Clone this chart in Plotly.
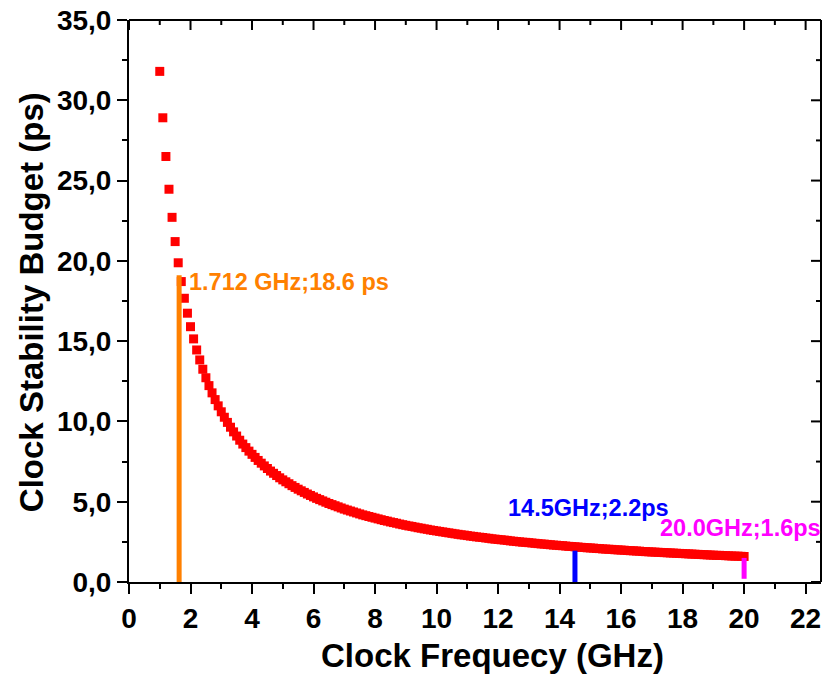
import plotly.graph_objects as go

freq_ghz = [1.0, 1.1, 1.2, 1.3, 1.4, 1.5, 1.6, 1.7, 1.8, 1.9,
            2.0, 2.1, 2.2, 2.3, 2.4, 2.5, 2.6, 2.7, 2.8, 2.9,
            3.0, 3.1, 3.2, 3.3, 3.4, 3.5, 3.6, 3.7, 3.8, 3.9,
            4.0, 4.1, 4.2, 4.3, 4.4, 4.5, 4.6, 4.7, 4.8, 4.9,
            5.0, 5.1, 5.2, 5.3, 5.4, 5.5, 5.6, 5.7, 5.8, 5.9,
            6.0, 6.1, 6.2, 6.3, 6.4, 6.5, 6.6, 6.7, 6.8, 6.9,
            7.0, 7.1, 7.2, 7.3, 7.4, 7.5, 7.6, 7.7, 7.8, 7.9,
            8.0, 8.1, 8.2, 8.3, 8.4, 8.5, 8.6, 8.7, 8.8, 8.9,
            9.0, 9.1, 9.2, 9.3, 9.4, 9.5, 9.6, 9.7, 9.8, 9.9,
            10.0, 10.1, 10.2, 10.3, 10.4, 10.5, 10.6, 10.7, 10.8, 10.9,
            11.0, 11.1, 11.2, 11.3, 11.4, 11.5, 11.6, 11.7, 11.8, 11.9,
            12.0, 12.1, 12.2, 12.3, 12.4, 12.5, 12.6, 12.7, 12.8, 12.9,
            13.0, 13.1, 13.2, 13.3, 13.4, 13.5, 13.6, 13.7, 13.8, 13.9,
            14.0, 14.1, 14.2, 14.3, 14.4, 14.5, 14.6, 14.7, 14.8, 14.9,
            15.0, 15.1, 15.2, 15.3, 15.4, 15.5, 15.6, 15.7, 15.8, 15.9,
            16.0, 16.1, 16.2, 16.3, 16.4, 16.5, 16.6, 16.7, 16.8, 16.9,
            17.0, 17.1, 17.2, 17.3, 17.4, 17.5, 17.6, 17.7, 17.8, 17.9,
            18.0, 18.1, 18.2, 18.3, 18.4, 18.5, 18.6, 18.7, 18.8, 18.9,
            19.0, 19.1, 19.2, 19.3, 19.4, 19.5, 19.6, 19.7, 19.8, 19.9,
            20.0]

budget_ps = [31.80, 28.91, 26.50, 24.46, 22.71, 21.20, 19.88, 18.71, 17.67, 16.74,
             15.90, 15.14, 14.45, 13.83, 13.25, 12.72, 12.23, 11.78, 11.36, 10.97,
             10.60, 10.26, 9.94, 9.64, 9.35, 9.09, 8.83, 8.59, 8.37, 8.15,
             7.95, 7.76, 7.57, 7.40, 7.23, 7.07, 6.91, 6.77, 6.63, 6.49,
             6.36, 6.24, 6.12, 6.00, 5.89, 5.78, 5.68, 5.58, 5.48, 5.39,
             5.30, 5.21, 5.13, 5.05, 4.97, 4.89, 4.82, 4.75, 4.68, 4.61,
             4.54, 4.48, 4.42, 4.36, 4.30, 4.24, 4.18, 4.13, 4.08, 4.03,
             3.98, 3.93, 3.88, 3.83, 3.79, 3.74, 3.70, 3.66, 3.61, 3.57,
             3.53, 3.49, 3.46, 3.42, 3.38, 3.35, 3.31, 3.28, 3.24, 3.21,
             3.18, 3.15, 3.12, 3.09, 3.06, 3.03, 3.00, 2.97, 2.94, 2.92,
             2.89, 2.86, 2.84, 2.81, 2.79, 2.77, 2.74, 2.72, 2.69, 2.67,
             2.65, 2.63, 2.61, 2.59, 2.56, 2.54, 2.52, 2.50, 2.48, 2.47,
             2.45, 2.43, 2.41, 2.39, 2.37, 2.36, 2.34, 2.32, 2.30, 2.29,
             2.27, 2.26, 2.24, 2.22, 2.21, 2.19, 2.18, 2.16, 2.15, 2.13,
             2.12, 2.11, 2.09, 2.08, 2.06, 2.05, 2.04, 2.03, 2.01, 2.00,
             1.99, 1.98, 1.96, 1.95, 1.94, 1.93, 1.92, 1.90, 1.89, 1.88,
             1.87, 1.86, 1.85, 1.84, 1.83, 1.82, 1.81, 1.80, 1.79, 1.78,
             1.77, 1.76, 1.75, 1.74, 1.73, 1.72, 1.71, 1.70, 1.69, 1.68,
             1.67, 1.66, 1.66, 1.65, 1.64, 1.63, 1.62, 1.61, 1.61, 1.60,
             1.59]

# marker lines (x, y-start, y-end)
orange_x = [1.63, 1.63]
orange_y = [-0.3, 19.1]
blue_x = [14.5, 14.5]
blue_y = [0.0, 1.95]
magenta_x = [20.0, 20.0]
magenta_y = [0.2, 1.5]

labels = ["1.712 GHz;18.6 ps", "14.5GHz;2.2ps", "20.0GHz;1.6ps"]
label_x = [1.90, 12.25, 17.2]
label_y = [18.68, 4.63, 3.38]
label_colors = ["#FF8000", "#0000FF", "#FF00FF"]

# axis tick positions (major / minor)
x_major = [0, 2, 4, 6, 8, 10, 12, 14, 16, 18, 20, 22]
x_minor = [1, 3, 5, 7, 9, 11, 13, 15, 17, 19, 21]
y_major = [0, 5, 10, 15, 20, 25, 30, 35]
y_minor = [2.5, 7.5, 12.5, 17.5, 22.5, 27.5, 32.5]

FONT = "Liberation Sans, Arial, sans-serif"
XR = [0, 22.5]
YR = [0, 35]
PLOT_W = 825 - 129 - 4
PLOT_H = 677 - 20 - 95

fig = go.Figure()
fig.add_trace(go.Scatter(x=freq_ghz, y=budget_ps, mode="markers",
                         marker=dict(symbol="square", size=9, color="#FF0000"),
                         showlegend=False, cliponaxis=False))
fig.add_trace(go.Scatter(x=orange_x, y=orange_y, mode="lines",
                         line=dict(color="#FF8000", width=5), showlegend=False))
fig.add_trace(go.Scatter(x=blue_x, y=blue_y, mode="lines",
                         line=dict(color="#0000FF", width=5), showlegend=False))
fig.add_trace(go.Scatter(x=magenta_x, y=magenta_y, mode="lines",
                         line=dict(color="#FF00FF", width=5), showlegend=False))

for t, x, y, c in zip(labels, label_x, label_y, label_colors):
    fig.add_annotation(x=x, y=y, xref="x", yref="y", text=t, showarrow=False,
                       xanchor="left", yanchor="middle",
                       font=dict(family=FONT, size=23.5, color=c, weight="bold"))

fig.add_annotation(x=0.5246, y=-0.13, xref="paper", yref="paper",
                   text="Clock Frequecy (GHz)", showarrow=False,
                   xanchor="center", yanchor="middle",
                   font=dict(family=FONT, size=33, color="black", weight="bold"))
fig.add_annotation(x=-0.1416, y=0.498, xref="paper", yref="paper",
                   text="Clock Stability Budget (ps)", showarrow=False, textangle=-90,
                   xanchor="center", yanchor="middle",
                   font=dict(family=FONT, size=33, color="black", weight="bold"))

# frame (top and right edges) with inward ticks, like the original
frame = dict(color="black", width=2)
fig.add_shape(type="line", xref="paper", yref="paper", x0=0, x1=1, y0=1, y1=1,
              line=frame, layer="above")
fig.add_shape(type="line", xref="paper", yref="paper", x0=1, x1=1, y0=0, y1=1,
              line=frame, layer="above")
for vals, ln in ((x_major, 10), (x_minor, 5)):
    for v in vals:
        fig.add_shape(type="line", xref="x", yref="paper", x0=v, x1=v,
                      y0=1, y1=1 - ln / PLOT_H, line=frame, layer="above")
for vals, ln in ((y_major, 10), (y_minor, 5)):
    for v in vals:
        fig.add_shape(type="line", xref="paper", yref="y", y0=v, y1=v,
                      x0=1, x1=1 - ln / PLOT_W, line=frame, layer="above")

tickfont = dict(family=FONT, size=28, color="black", weight="bold")

fig.update_layout(
    width=825, height=677,
    margin=dict(l=129, r=4, t=20, b=95, autoexpand=False),
    plot_bgcolor="white", paper_bgcolor="white",
    separators=", ",
    xaxis=dict(range=XR, tickvals=x_major, ticks="outside", ticklen=10, tickwidth=2,
               tickcolor="black", showline=True, linewidth=2, linecolor="black",
               showgrid=False, zeroline=False, tickfont=tickfont,
               minor=dict(tickvals=x_minor, ticks="outside", ticklen=5, tickwidth=2,
                          tickcolor="black")),
    yaxis=dict(range=YR, tickvals=y_major, tickformat=".1f", ticks="outside", ticklen=10,
               tickwidth=2, tickcolor="black", showline=True, linewidth=2, linecolor="black",
               showgrid=False, zeroline=False, tickfont=tickfont,
               minor=dict(tickvals=y_minor, ticks="outside", ticklen=5, tickwidth=2,
                          tickcolor="black")),
)

fig.write_html("out.html")
